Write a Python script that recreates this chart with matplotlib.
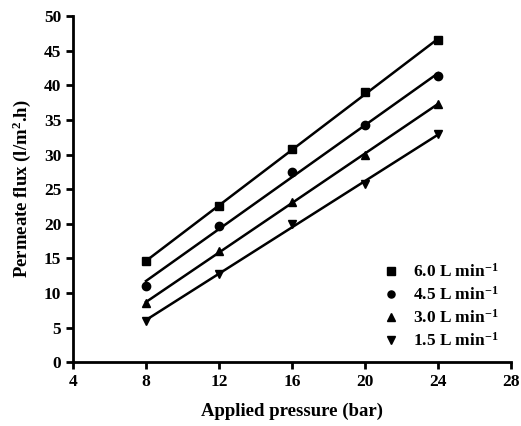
import numpy as np
import matplotlib

matplotlib.use("Agg", force=True)
import matplotlib.pyplot as plt

plt.rcParams["font.family"] = "Liberation Serif"
plt.rcParams["font.weight"] = "bold"
plt.rcParams["mathtext.fontset"] = "custom"
plt.rcParams["mathtext.rm"] = "Liberation Serif:bold"
plt.rcParams["mathtext.it"] = "Liberation Serif:italic:bold"
plt.rcParams["mathtext.bf"] = "Liberation Serif:bold"

pressure = [8, 12, 16, 20, 24]
flux_60 = [14.6, 22.5, 30.8, 39.0, 46.5]
flux_45 = [11.0, 19.7, 27.5, 34.2, 41.3]
flux_30 = [8.5, 16.0, 23.2, 30.0, 37.3]
flux_15 = [6.0, 12.7, 20.0, 25.7, 33.0]
labels = ["6.0 L min$^{\\mathrm{-1}}$", "4.5 L min$^{\\mathrm{-1}}$",
          "3.0 L min$^{\\mathrm{-1}}$", "1.5 L min$^{\\mathrm{-1}}$"]
markers = ["s", "o", "^", "v"]

fig = plt.figure(figsize=(5.21, 4.26), dpi=100)
ax = fig.add_axes([0.14, 0.15, 0.841, 0.812])

x = np.asarray(pressure, dtype=float)
for ys, lab, mk in zip([flux_60, flux_45, flux_30, flux_15], labels, markers):
    ys = np.asarray(ys, dtype=float)
    k, b = np.polyfit(x, ys, 1)
    ax.plot(x, k * x + b, color="black", linewidth=1.8)
    ax.plot(x, ys, linestyle="none", marker=mk, color="black", markersize=6, label=lab)

ax.set_xlim(4, 28)
ax.set_ylim(0, 50)
ax.set_xticks(range(4, 29, 4))
ax.set_yticks(range(0, 51, 5))
for side in ["top", "right"]:
    ax.spines[side].set_visible(False)
for side in ["left", "bottom"]:
    ax.spines[side].set_linewidth(2.0)
ax.tick_params(width=2.0, length=5, labelsize=12.5, direction="out")
ax.set_xlabel("Applied pressure (bar)", fontsize=13.5, fontweight="bold", labelpad=9)
ax.set_ylabel("Permeate flux (l/m$^{2}$.h)", fontsize=13.5, fontweight="bold", labelpad=8)
ax.legend(loc="lower right", bbox_to_anchor=(1.0, 0.0), frameon=False, fontsize=12.5,
          handletextpad=0.8, labelspacing=0.3, handlelength=1.0, borderaxespad=0.3,
          markerscale=0.85)

fig.savefig("out.png", dpi=100)
plt.close(fig)
